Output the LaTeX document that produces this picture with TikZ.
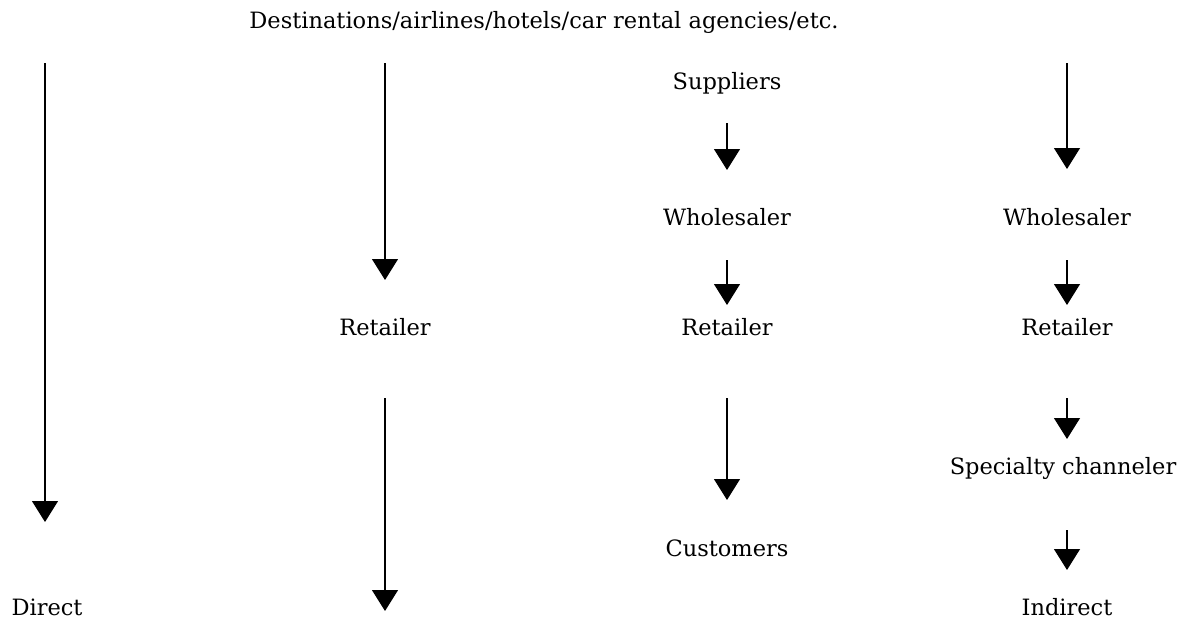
\documentclass[tikz,border=0pt]{standalone}
\usepackage{fontspec}
\setmainfont{DejaVu Serif}
\usetikzlibrary{arrows.meta}
\tikzset{
  lbl/.style={inner sep=0pt, font=\fontsize{22.5}{27}\selectfont, anchor=center},
  arr/.style={line width=1.2pt, -{Triangle[width=26pt,length=21pt]}},
}
\begin{document}
\begin{tikzpicture}[x=1pt,y=-1pt]
\useasboundingbox (0,0) rectangle (1194,621);
% texts
\node[lbl] (top) at (544,22) {Destinations/airlines/hotels/car rental agencies/etc.};
\node[lbl] (direct) at (47,607) {Direct};
\node[lbl] (ret2) at (385,327) {Retailer};
\node[lbl] (sup3) at (727,83) {Suppliers};
\node[lbl] (who3) at (727,217) {Wholesaler};
\node[lbl] (ret3) at (727,327) {Retailer};
\node[lbl] (cus3) at (727,548) {Customers};
\node[lbl] (who4) at (1067,217) {Wholesaler};
\node[lbl] (ret4) at (1067,327) {Retailer};
\node[lbl] (spc4) at (1063,468) {Specialty channeler};
\node[lbl] (ind4) at (1067,607) {Indirect};
% arrow end points
\coordinate (c1s) at (45,63);   \coordinate (c1e) at (45,522);
\coordinate (c2s) at (385,63);  \coordinate (c2e) at (385,280);
\coordinate (c2bs) at (385,398); \coordinate (c2be) at (385,611);
\coordinate (c3as) at (727,123); \coordinate (c3ae) at (727,170);
\coordinate (c3bs) at (727,260); \coordinate (c3be) at (727,305);
\coordinate (c3cs) at (727,398); \coordinate (c3ce) at (727,500);
\coordinate (c4as) at (1067,63);  \coordinate (c4ae) at (1067,169);
\coordinate (c4bs) at (1067,260); \coordinate (c4be) at (1067,305);
\coordinate (c4cs) at (1067,398); \coordinate (c4ce) at (1067,439);
\coordinate (c4ds) at (1067,530); \coordinate (c4de) at (1067,570);
% arrows
\draw[arr] (c1s) -- (c1e);
\draw[arr] (c2s) -- (c2e);
\draw[arr] (c2bs) -- (c2be);
\draw[arr] (c3as) -- (c3ae);
\draw[arr] (c3bs) -- (c3be);
\draw[arr] (c3cs) -- (c3ce);
\draw[arr] (c4as) -- (c4ae);
\draw[arr] (c4bs) -- (c4be);
\draw[arr] (c4cs) -- (c4ce);
\draw[arr] (c4ds) -- (c4de);
\end{tikzpicture}
\end{document}
